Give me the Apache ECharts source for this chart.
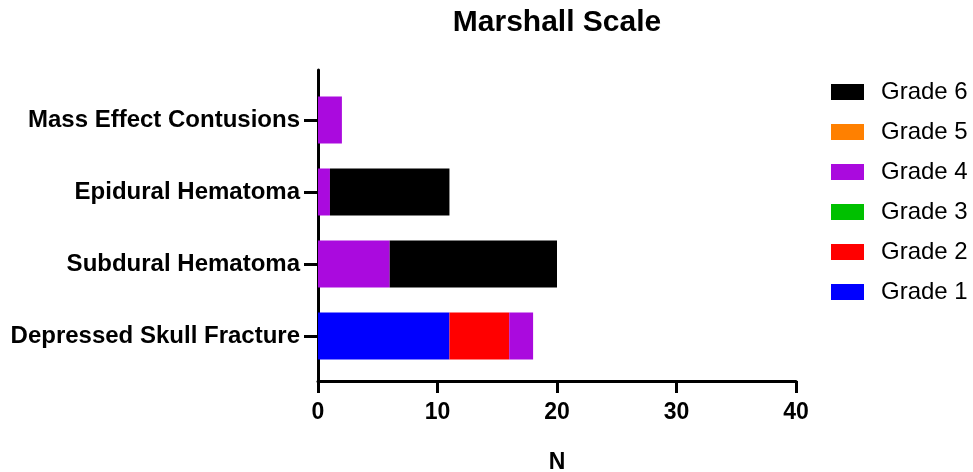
<!DOCTYPE html>
<html><head><meta charset="utf-8">
<script src="https://cdn.jsdelivr.net/npm/echarts@6/dist/echarts.min.js"></script>
<style>html,body{margin:0;padding:0;background:#fff}#c{width:973px;height:472px}</style>
</head><body><div id="c"></div>
<script>
const categories = ['Depressed Skull Fracture', 'Subdural Hematoma', 'Epidural Hematoma', 'Mass Effect Contusions'];
const seriesNames = ['Grade 1', 'Grade 2', 'Grade 3', 'Grade 4', 'Grade 5', 'Grade 6'];
const grade1 = [11, 0, 0, 0];
const grade2 = [5, 0, 0, 0];
const grade3 = [0, 0, 0, 0];
const grade4 = [2, 6, 1, 2];
const grade5 = [0, 0, 0, 0];
const grade6 = [0, 14, 10, 0];
const xTicks = [0, 10, 20, 30, 40];
const colors = ['#0000FF', '#FF0000', '#00C000', '#AA0ADE', '#FF8000', '#000000'];

const values = [grade1, grade2, grade3, grade4, grade5, grade6];
const font = 'Arial, "Liberation Sans", sans-serif';
const chart = echarts.init(document.getElementById('c'), null, {renderer: 'canvas'});
chart.setOption({
  animation: false,
  title: {text: 'Marshall Scale', left: 557, textAlign: 'center', top: 8, padding: 0,
    textStyle: {fontFamily: font, fontWeight: 'bold', fontSize: 30, color: '#000'}},
  legend: {orient: 'vertical', left: 831, top: 80, padding: 0, itemWidth: 33, itemHeight: 16, itemGap: 16,
    icon: 'rect',
    data: seriesNames.slice().reverse(),
    textStyle: {fontFamily: font, fontSize: 24, color: '#000', padding: [0, 0, 0, 12]}},
  grid: [
    {left: 318, right: 177, top: 84, bottom: 100, containLabel: false, outerBoundsMode: 'none'},
    {left: 318, right: 177, top: 70, bottom: 91, containLabel: false, outerBoundsMode: 'none'}
  ],
  xAxis: [
    {type: 'value', gridIndex: 0, min: xTicks[0], max: xTicks[xTicks.length - 1], interval: 10, offset: 9,
     name: 'N', nameLocation: 'middle', nameGap: 70,
     nameTextStyle: {fontFamily: font, fontWeight: 'bold', fontSize: 23, color: '#000'},
     axisLine: {show: true, lineStyle: {color: '#000', width: 3}},
     axisTick: {show: true, length: 12, lineStyle: {color: '#000', width: 3}},
     axisLabel: {fontFamily: font, fontWeight: 'bold', fontSize: 23, color: '#000', margin: 20},
     splitLine: {show: false}},
    {type: 'value', gridIndex: 1, min: 0, max: 40, show: false}
  ],
  yAxis: [
    {type: 'category', gridIndex: 0, data: categories,
     axisLine: {show: false},
     axisTick: {show: true, alignWithLabel: true, length: 14, lineStyle: {color: '#000', width: 3}},
     axisLabel: {fontFamily: font, fontWeight: 'bold', fontSize: 24, color: '#000', margin: 18}},
    {type: 'value', gridIndex: 1, min: 0, max: 1,
     axisLine: {show: true, lineStyle: {color: '#000', width: 3}},
     axisTick: {show: false}, axisLabel: {show: false}, splitLine: {show: false}}
  ],
  series: seriesNames.map((n, i) => ({
    name: n, type: 'bar', stack: 'total', xAxisIndex: 0, yAxisIndex: 0,
    barWidth: 47, data: values[i], itemStyle: {color: colors[i]}
  }))
});
</script></body></html>
